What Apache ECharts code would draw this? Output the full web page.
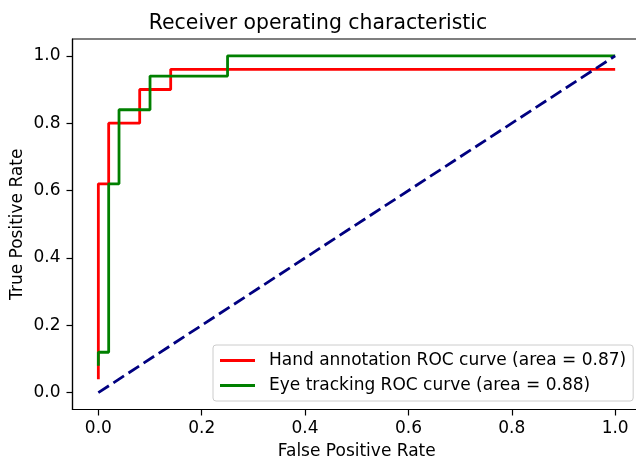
<!DOCTYPE html>
<html>
<head>
<meta charset="utf-8">
<script src="https://cdn.jsdelivr.net/npm/echarts@6/dist/echarts.min.js"></script>
<style>html,body{margin:0;padding:0;background:#fff;}#c{width:636px;height:459px;}</style>
</head>
<body>
<div id="c"></div>
<script>
const titleText = 'Receiver operating characteristic';
const xAxisName = 'False Positive Rate';
const yAxisName = 'True Positive Rate';
const tickValues = [0, 0.2, 0.4, 0.6, 0.8, 1.0];

const handName = 'Hand annotation ROC curve (area = 0.87)';
const handFpr = [0, 0, 0.02, 0.02, 0.08, 0.08, 0.14, 0.14, 1.0];
const handTpr = [0.04, 0.62, 0.62, 0.80, 0.80, 0.90, 0.90, 0.96, 0.96];

const eyeName = 'Eye tracking ROC curve (area = 0.88)';
const eyeFpr = [0, 0, 0.02, 0.02, 0.04, 0.04, 0.10, 0.10, 0.25, 0.25, 1.0];
const eyeTpr = [0.08, 0.12, 0.12, 0.62, 0.62, 0.84, 0.84, 0.94, 0.94, 1.0, 1.0];

const diagX = [0, 1];
const diagY = [0, 1];

const zip = (a, b) => a.map((v, i) => [v, b[i]]);
const FONT = 'DejaVu Sans';

const chart = echarts.init(document.getElementById('c'), null, {renderer: 'canvas'});
chart.setOption({
  animation: false,
  backgroundColor: '#fff',
  textStyle: {fontFamily: FONT},
  title: {
    text: titleText, left: 'center', top: 9,
    textStyle: {fontFamily: FONT, fontSize: 20.4, fontWeight: 'normal', color: '#000'}
  },
  grid: {left: 72.5, right: -5, top: 39, bottom: 49.5, show: true, borderColor: '#000', borderWidth: 1.2,
    containLabel: false, outerBoundsMode: 'none'},
  legend: {
    orient: 'vertical', left: 213, top: 345,
    padding: [7, 7, 7, 7], itemGap: 8, itemWidth: 35, itemHeight: 3,
    backgroundColor: 'rgba(255,255,255,0.8)',
    borderColor: '#cccccc', borderWidth: 1, borderRadius: 3,
    icon: 'rect',
    textStyle: {fontFamily: FONT, fontSize: 17, color: '#000', padding: [0, 0, 0, 9]},
    data: [handName, eyeName]
  },
  xAxis: {
    type: 'value', min: -0.05, max: 1.05,
    name: xAxisName, nameLocation: 'middle', nameGap: 34, nameMoveOverlap: false,
    nameTextStyle: {fontFamily: FONT, fontSize: 17, color: '#000'},
    axisLine: {show: true, onZero: false, lineStyle: {color: '#000', width: 1.2}},
    axisTick: {show: true, inside: false, length: 6, customValues: tickValues, lineStyle: {color: '#000', width: 1.2}},
    axisLabel: {show: true, margin: 11, customValues: tickValues, fontFamily: FONT, fontSize: 17, color: '#000',
      formatter: v => v.toFixed(1)},
    splitLine: {show: false}
  },
  yAxis: {
    type: 'value', min: -0.05, max: 1.05,
    name: yAxisName, nameLocation: 'middle', nameGap: 46.5, nameMoveOverlap: false,
    nameTextStyle: {fontFamily: FONT, fontSize: 17, color: '#000'},
    axisLine: {show: true, onZero: false, lineStyle: {color: '#000', width: 1.2}},
    axisTick: {show: true, inside: false, length: 6, customValues: tickValues, lineStyle: {color: '#000', width: 1.2}},
    axisLabel: {show: true, margin: 12, customValues: tickValues, fontFamily: FONT, fontSize: 17, color: '#000',
      formatter: v => v.toFixed(1)},
    splitLine: {show: false}
  },
  series: [
    {name: handName, type: 'line', data: zip(handFpr, handTpr), showSymbol: false, symbol: 'none',
      color: '#ff0000', lineStyle: {color: '#ff0000', width: 2.8}, z: 2},
    {name: eyeName, type: 'line', data: zip(eyeFpr, eyeTpr), showSymbol: false, symbol: 'none',
      color: '#008000', lineStyle: {color: '#008000', width: 2.8}, z: 3},
    {name: 'diag', type: 'line', data: zip(diagX, diagY), showSymbol: false, symbol: 'none',
      color: '#000080', lineStyle: {color: '#000080', width: 2.8, type: [12.6, 5.4]}, z: 4}
  ]
});
</script>
</body>
</html>
